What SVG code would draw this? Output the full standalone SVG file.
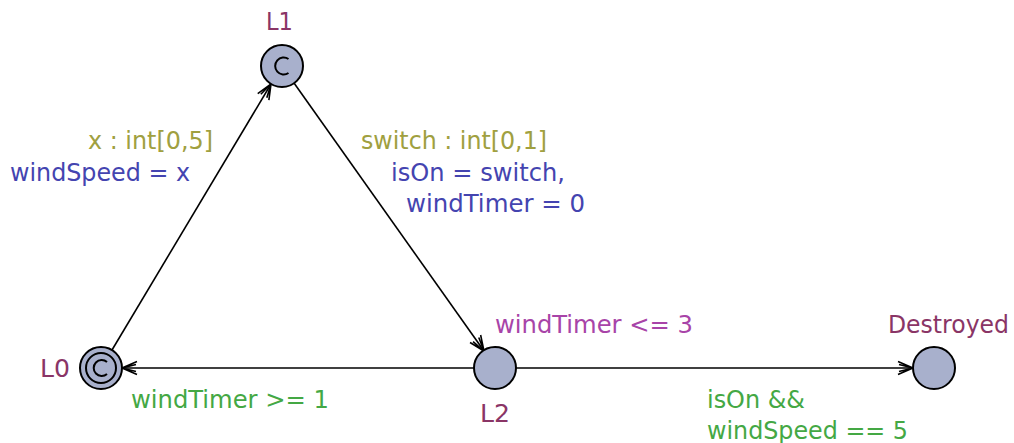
<svg xmlns="http://www.w3.org/2000/svg" width="1014" height="443" viewBox="0 0 1014 443">
<style>
text{font-family:"DejaVu Sans","Liberation Sans",sans-serif;font-size:25px}
.loc{fill:#a8b0cc;stroke:#000;stroke-width:2}
.name{fill:#8a3566}
.sel{fill:#a0a040}
.asg{fill:#4444b0}
.inv{fill:#a844a8}
.grd{fill:#44a844}
.edge{stroke:#000;stroke-width:1.6;fill:none;marker-end:url(#arr)}
.cm{fill:none;stroke:#000;stroke-width:2}
</style>
<defs>
<marker id="arr" viewBox="-18 -9 20 18" refX="0" refY="0" markerWidth="20" markerHeight="18" markerUnits="userSpaceOnUse" orient="auto">
<path d="M-15,-6.5 L0,0 L-15,6.5 M-14,-3.5 L0,0 L-14,3.5" fill="none" stroke="#000" stroke-width="1.6"/>
</marker>
</defs>
<g id="connectors">
<line class="edge" x1="112" y1="350" x2="271" y2="84"/>
<line class="edge" x1="294" y1="83" x2="484" y2="351"/>
<line class="edge" x1="474" y1="368" x2="122" y2="368"/>
<line class="edge" x1="516" y1="368" x2="913" y2="368"/>
</g>
<g id="L1">
<circle class="loc" cx="282" cy="66" r="21"/>
<path class="cm" d="M288.5,59 A8.5,8.5 0 1 0 288.5,73"/>
<text class="name" x="266" y="30" textLength="27" lengthAdjust="spacingAndGlyphs">L1</text>
</g>
<g id="L0">
<circle class="loc" cx="101" cy="368" r="21"/>
<circle cx="101" cy="368" r="15" fill="none" stroke="#000" stroke-width="2"/>
<path class="cm" d="M107,362 A8,8 0 1 0 107,374"/>
<text class="name" x="40" y="377" textLength="30" lengthAdjust="spacingAndGlyphs">L0</text>
</g>
<g id="L2">
<circle class="loc" cx="495" cy="368" r="21"/>
<text class="name" x="480" y="422" textLength="30" lengthAdjust="spacingAndGlyphs">L2</text>
<text class="inv" x="495" y="333" textLength="198" lengthAdjust="spacingAndGlyphs">windTimer &lt;= 3</text>
</g>
<g id="Destroyed">
<circle class="loc" cx="934" cy="368" r="21"/>
<text class="name" x="888" y="333" style="font-size:24px" textLength="121" lengthAdjust="spacingAndGlyphs">Destroyed</text>
</g>
<g id="labels">
<text class="sel" x="88" y="149" textLength="125" lengthAdjust="spacingAndGlyphs">x : int[0,5]</text>
<text class="asg" x="10" y="181" textLength="180" lengthAdjust="spacingAndGlyphs">windSpeed = x</text>
<text class="sel" x="361" y="149" textLength="186" lengthAdjust="spacingAndGlyphs">switch : int[0,1]</text>
<text class="asg" x="391" y="181" textLength="174" lengthAdjust="spacingAndGlyphs">isOn = switch,</text>
<text class="asg" x="406" y="212" textLength="179" lengthAdjust="spacingAndGlyphs">windTimer = 0</text>
<text class="grd" x="131" y="408" textLength="198" lengthAdjust="spacingAndGlyphs">windTimer &gt;= 1</text>
<text class="grd" x="707" y="408" textLength="98" lengthAdjust="spacingAndGlyphs">isOn &amp;&amp;</text>
<text class="grd" x="707" y="439" textLength="201" lengthAdjust="spacingAndGlyphs">windSpeed == 5</text>
</g>
</svg>
